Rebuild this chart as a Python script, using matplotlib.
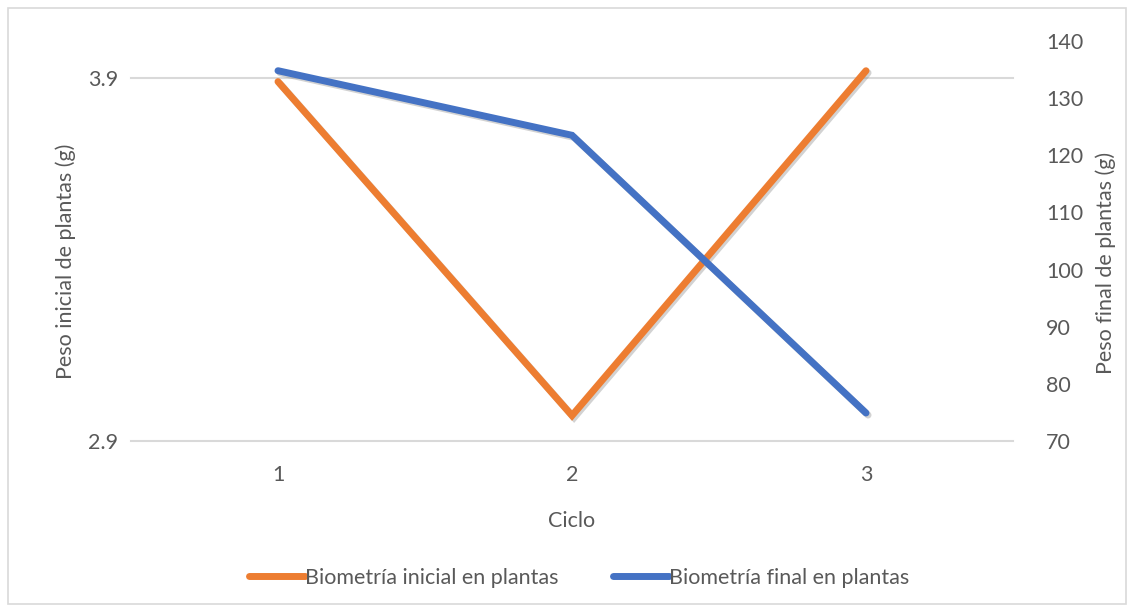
import matplotlib.pyplot as plt
import matplotlib.patheffects as pe
from matplotlib.patches import Rectangle

# Datos por ciclo
ciclos = [1, 2, 3]
peso_inicial = [3.89, 2.97, 3.92]       # eje izquierdo (g)
peso_final = [134.8, 123.5, 74.9]       # eje derecho (g)

etiqueta_inicial = "Biometría inicial en plantas"
etiqueta_final = "Biometría final en plantas"

NARANJA = "#ED7D31"
AZUL = "#4472C4"
TEXTO = "#595959"
REJILLA = "#D9D9D9"
FS = 15.5

plt.rcParams['font.family'] = ['Lato', 'DejaVu Sans']
plt.rcParams['font.size'] = FS

fig = plt.figure(figsize=(11.34, 6.12), dpi=100)
ax = fig.add_axes([131 / 1134, 1 - 441 / 612, (1013 - 131) / 1134, (441 - 41) / 612])
ax2 = ax.twinx()

sombra = [pe.SimpleLineShadow(offset=(1.5, -1.5), shadow_color='gray', alpha=0.35),
          pe.Normal()]

l1, = ax.plot(ciclos, peso_inicial, color=NARANJA, lw=5, solid_capstyle='round',
              solid_joinstyle='miter', path_effects=sombra, label=etiqueta_inicial)
l2, = ax2.plot(ciclos, peso_final, color=AZUL, lw=5, solid_capstyle='round',
               solid_joinstyle='miter', path_effects=sombra, label=etiqueta_final)

ax.set_xlim(0.5, 3.5)
ax.set_ylim(2.9, 2.9 + 400 / 363)
ax.set_yticks([2.9, 3.9])
ax.set_yticklabels(["2.9", "3.9"])
ax.set_xticks(ciclos)
ax2.set_ylim(70, 140)
ax2.set_yticks(range(70, 141, 10))

for a in (ax, ax2):
    for s in a.spines.values():
        s.set_visible(False)
    a.tick_params(length=0, colors=TEXTO, labelsize=FS)

ax.tick_params(axis='x', pad=17)
ax.tick_params(axis='y', pad=9)
ax2.tick_params(axis='y', pad=24)

# rejilla horizontal solo en los valores del eje izquierdo
for y in [2.9, 3.9]:
    ax.plot([0.5, 3.5], [y, y], color=REJILLA, lw=1.5, zorder=0, clip_on=False)

ax.set_xlabel("Ciclo", color=TEXTO, fontsize=FS)
ax.set_ylabel("Peso inicial de plantas (g)", color=TEXTO, fontsize=FS)
ax2.set_ylabel("Peso final de plantas (g)", color=TEXTO, fontsize=FS)
ax.xaxis.set_label_coords(0.5, -(511 - 441) / 400)
ax.yaxis.set_label_coords(-0.062, 0.45)
ax2.yaxis.set_label_coords(1.093, 0.445)

leg = fig.legend(handles=[l1, l2], loc='center', bbox_to_anchor=(579 / 1134, 1 - 578 / 612),
                 ncol=2, frameon=False, fontsize=FS, handlelength=2.6,
                 handletextpad=0.0, columnspacing=2.5)
for t in leg.get_texts():
    t.set_color(TEXTO)
for h in leg.legend_handles:
    h.set_path_effects([])

fig.patches.append(Rectangle((8 / 1134, 8 / 612), 1 - 16 / 1134, 1 - 16 / 612,
                             transform=fig.transFigure, fill=False,
                             edgecolor=REJILLA, lw=1.2))

fig.savefig("out.png", dpi=100)
